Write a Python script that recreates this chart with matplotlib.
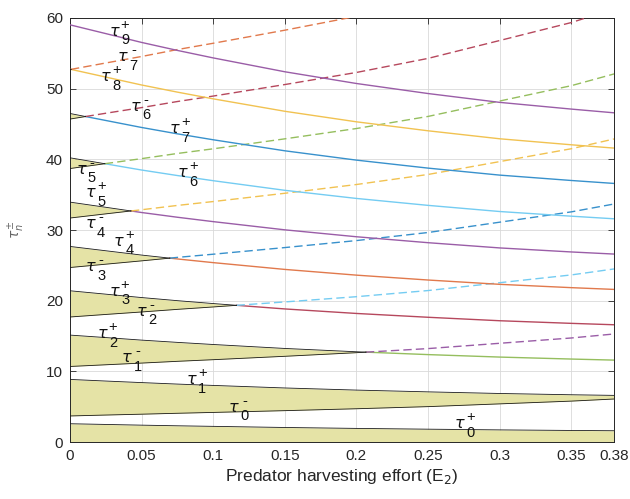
import numpy as np
import matplotlib
matplotlib.use("Agg")
import matplotlib.pyplot as plt
from matplotlib.colors import to_rgb

# ---------------- data ----------------
E2 = [0, 0.025, 0.05, 0.075, 0.1, 0.15, 0.2, 0.25, 0.3, 0.35, 0.38]

tau_plus = {
    0: [2.60, 2.50, 2.40, 2.31, 2.23, 2.07, 1.94, 1.83, 1.73, 1.65, 1.61],
    1: [8.87, 8.64, 8.42, 8.21, 8.02, 7.66, 7.36, 7.11, 6.88, 6.70, 6.61],
    2: [15.14, 14.79, 14.43, 14.11, 13.81, 13.25, 12.78, 12.38, 12.03, 11.75, 11.60],
    3: [21.41, 20.93, 20.45, 20.01, 19.60, 18.84, 18.20, 17.66, 17.17, 16.80, 16.60],
    4: [27.68, 27.07, 26.46, 25.91, 25.39, 24.43, 23.62, 22.93, 22.32, 21.85, 21.60],
    5: [33.95, 33.22, 32.48, 31.81, 31.19, 30.03, 29.05, 28.21, 27.47, 26.90, 26.60],
    6: [40.22, 39.36, 38.49, 37.71, 36.98, 35.62, 34.47, 33.49, 32.62, 31.96, 31.59],
    7: [46.49, 45.50, 44.51, 43.61, 42.77, 41.21, 39.89, 38.76, 37.77, 37.01, 36.59],
    8: [52.76, 51.64, 50.52, 49.51, 48.56, 46.80, 45.31, 44.04, 42.91, 42.06, 41.59],
    9: [59.03, 57.79, 56.54, 55.41, 54.35, 52.39, 50.73, 49.31, 48.06, 47.11, 46.58],
}

tau_minus = {
    0: [3.70, 3.83, 3.95, 4.08, 4.20, 4.45, 4.72, 5.02, 5.41, 5.80, 6.10],
    1: [10.70, 10.94, 11.18, 11.43, 11.66, 12.14, 12.65, 13.23, 13.98, 14.73, 15.30],
    2: [17.70, 18.06, 18.41, 18.78, 19.12, 19.83, 20.57, 21.44, 22.55, 23.65, 24.50],
    3: [24.70, 25.17, 25.64, 26.13, 26.58, 27.52, 28.51, 29.65, 31.11, 32.57, 33.69],
    4: [31.70, 32.29, 32.87, 33.48, 34.03, 35.20, 36.44, 37.86, 39.68, 41.50, 42.89],
    5: [38.70, 39.40, 40.10, 40.83, 41.49, 42.90, 44.36, 46.07, 48.25, 50.42, 52.09],
    6: [45.70, 46.52, 47.32, 48.18, 48.95, 50.58, 52.29, 54.28, 56.81, 59.35, 61.29],
    7: [52.70, 53.63, 54.55, 55.53, 56.42, 58.27, 60.23, 62.49, 65.38, 68.27, 70.49],
}

xtick_vals = [0, 0.05, 0.1, 0.15, 0.2, 0.25, 0.3, 0.35, 0.38]
xtick_labels = ['0', '0.05', '0.1', '0.15', '0.2', '0.25', '0.3', '0.35', '0.38']
ytick_vals = [0, 10, 20, 30, 40, 50, 60]

# curve labels: index n and sign of tau_n^{+/-}
label_index = [9, 7, 8, 6, 7, 6, 5, 5, 4, 4, 3, 3, 2, 2, 1, 1, 0, 0]
label_sign = ['+', '-', '+', '-', '+', '+', '-', '+', '-', '+', '-', '+', '-', '+', '-', '+', '-', '+']

# ---------------- styles ----------------
MB = '#0072BD'; MO = '#D95319'; MY = '#EDB120'; MP = '#7E2F8E'
MG = '#77AC30'; MC = '#4DBEEE'; MR = '#A2142F'


def light(c, a=0.22):
    r, g, b = to_rgb(c)
    return (r + (1 - r) * a, g + (1 - g) * a, b + (1 - b) * a)

plus_color = {2: MG, 3: MR, 4: MO, 5: MP, 6: MC, 7: MB, 8: MY, 9: MP}
minus_color = {1: MP, 2: MC, 3: MB, 4: MY, 5: MG, 6: MR, 7: MO}
shade = '#e5e3a6'
edge = '#1a1a1a'

plt.rcParams['font.family'] = ['Liberation Sans', 'DejaVu Sans']
plt.rcParams['mathtext.fontset'] = 'dejavusans'

fig = plt.figure(figsize=(6.30, 4.99), dpi=100)
ax = fig.add_axes([0.111, 0.114, 0.864, 0.850])

x = np.array(E2)

# region below tau_0^+
t0p = np.array(tau_plus[0])
ax.fill_between(x, 0, t0p, color=shade, lw=0, zorder=1)
ax.plot(x, t0p, color=edge, lw=0.6, zorder=4)

for n in range(0, 8):
    lo = np.array(tau_minus[n])
    hi = np.array(tau_plus[n + 1])
    d = hi - lo
    neg = np.where(d <= 0)[0]
    if len(neg) == 0:
        ax.fill_between(x, lo, hi, color=shade, lw=0, zorder=1)
        ax.plot(x, lo, color=edge, lw=0.6, zorder=4)
        ax.plot(x, hi, color=edge, lw=0.6, zorder=4)
        continue
    i = neg[0]
    t = d[i - 1] / (d[i - 1] - d[i])
    xc = x[i - 1] + (x[i] - x[i - 1]) * t
    yc = lo[i - 1] + (lo[i] - lo[i - 1]) * t
    xs = np.r_[x[:i], xc]
    los = np.r_[lo[:i], yc]
    his = np.r_[hi[:i], yc]
    ax.fill_between(xs, los, his, color=shade, lw=0, zorder=1)
    ax.plot(xs, los, color=edge, lw=0.6, zorder=4)
    ax.plot(xs, his, color=edge, lw=0.6, zorder=4)
    xa = np.r_[xc, x[i:]]
    ax.plot(xa, np.r_[yc, hi[i:]], color=light(plus_color[n + 1]), lw=1.0, zorder=3)
    ax.plot(xa, np.r_[yc, lo[i:]], color=light(minus_color[n]), lw=1.0,
            dashes=(6, 3), zorder=3)

ax.plot(x, tau_plus[9], color=light(plus_color[9]), lw=1.0, zorder=3)

# label anchor positions (left edge / centre height of the tau glyph)
label_pos = [(0.027, 58.1), (0.033, 54.5), (0.021, 51.7), (0.042, 47.5),
             (0.069, 44.3), (0.0745, 38.1), (0.004, 38.6), (0.0105, 35.3),
             (0.0105, 30.9), (0.030, 28.4), (0.0105, 24.8), (0.027, 21.3),
             (0.046, 18.5), (0.0186, 15.3), (0.036, 11.9), (0.081, 8.8),
             (0.1106, 4.9), (0.268, 2.6)]
tc = '#111111'
for k, sgn, (lx, ly) in zip(label_index, label_sign, label_pos):
    t1 = ax.annotate(r'$\tau$', (lx, ly), ha='left', va='center', fontsize=11.5,
                     color=tc, zorder=6)
    ax.annotate(sgn + '\n' + str(k), xy=(1, 0.5), xycoords=t1,
                xytext=(0.3, -0.8), textcoords='offset points',
                ha='left', va='center', multialignment='center',
                fontsize=10.5, linespacing=1.15, color=tc, zorder=6)

ax.set_xlim(0, 0.38)
ax.set_ylim(0, 60)
ax.set_xticks(xtick_vals)
ax.set_xticklabels(xtick_labels)
ax.set_yticks(ytick_vals)
ax.grid(True, color='#d9d9d9', lw=0.6)
ax.set_axisbelow(True)
ax.tick_params(direction='in', top=True, right=True, length=4, width=0.6,
               colors='#262626', labelsize=11, pad=5)
for sp in ax.spines.values():
    sp.set_color('#262626')
    sp.set_linewidth(0.7)

ax.set_xlabel(r'Predator harvesting effort (E$_2$)', fontsize=12.5, color='#262626', labelpad=3)
ax.set_ylabel(r'$\tau_n^{\pm}$', fontsize=10, color='#666666', labelpad=14)

fig.savefig('out.png', dpi=100)
